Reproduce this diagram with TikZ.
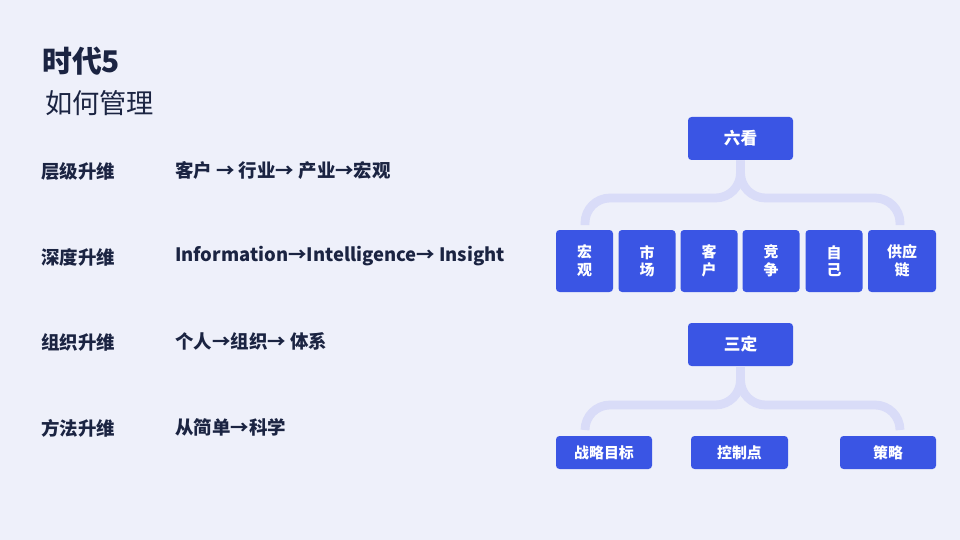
\documentclass[tikz,border=0pt]{standalone}
\usepackage{fontspec}
\setmainfont{Noto Sans CJK SC}
\definecolor{bgcol}{HTML}{EEF0FA}
\definecolor{ink}{HTML}{1B2442}
\definecolor{boxblue}{HTML}{3A55E4}
\definecolor{lilac}{HTML}{D9DCF8}
\tikzset{
  box/.style={fill=boxblue, rounded corners=2pt, text=white, font=\fontsize{8.5}{10}\selectfont\bfseries, align=center, inner sep=0pt},
  row/.style={anchor=west, text=ink, font=\fontsize{10.5}{12}\selectfont\bfseries},
  bracket/.style={draw=lilac, line width=5pt, rounded corners=0.5cm}
}
\begin{document}
\begin{tikzpicture}
  \fill[bgcol] (0,0) rectangle (19.2,-10.8);
  \useasboundingbox (0,0) rectangle (19.2,-10.8);

  \node [anchor=west, text=ink, font=\fontsize{17}{20}\selectfont\bfseries] (title) at (0.72,-1.22) {时代5};
  \node [anchor=west, text=ink, font=\fontsize{15.5}{18}\selectfont] (sub) at (0.78,-2.06) {如何管理};

  \node [row] (r1) at (0.7,-3.44) {层级升维};
  \node [row] (v1) at (3.38,-3.40) {客户 → 行业→ 产业→宏观};
  \node [row] (r2) at (0.7,-5.14) {深度升维};
  \node [row] (v2) at (3.38,-5.12) {Information→Intelligence→ Insight};
  \node [row] (r3) at (0.7,-6.84) {组织升维};
  \node [row] (v3) at (3.38,-6.82) {个人→组织→ 体系};
  \node [row] (r4) at (0.7,-8.56) {方法升维};
  \node [row] (v4) at (3.38,-8.54) {从简单→科学};

  % six boxes
  \node [box, minimum width=2.1cm, minimum height=0.86cm, font=\fontsize{9.5}{11}\selectfont\bfseries] (lk) at (14.81,-2.77) {六看};
  \node [box, minimum width=1.14cm, minimum height=1.24cm] (a1) at (11.69,-5.22) {宏\\观};
  \node [box, minimum width=1.14cm, minimum height=1.24cm] (a2) at (12.94,-5.22) {市\\场};
  \node [box, minimum width=1.14cm, minimum height=1.24cm] (a3) at (14.18,-5.22) {客\\户};
  \node [box, minimum width=1.14cm, minimum height=1.24cm] (a4) at (15.42,-5.22) {竞\\争};
  \node [box, minimum width=1.14cm, minimum height=1.24cm] (a5) at (16.68,-5.22) {自\\己};
  \node [box, minimum width=1.36cm, minimum height=1.24cm] (a6) at (18.04,-5.22) {供应\\链};

  % three boxes
  \node [box, minimum width=2.1cm, minimum height=0.86cm, font=\fontsize{9.5}{11}\selectfont\bfseries] (sd) at (14.81,-6.89) {三定};
  \node [box, minimum width=1.92cm, minimum height=0.66cm] (b1) at (12.08,-9.05) {战略目标};
  \node [box, minimum width=1.94cm, minimum height=0.66cm] (b2) at (14.79,-9.05) {控制点};
  \node [box, minimum width=1.92cm, minimum height=0.66cm] (b3) at (17.76,-9.05) {策略};

  \coordinate (lkl) at (11.7,-4.5);
  \coordinate (lkr) at (18.0,-4.5);
  \coordinate (sdl) at (11.7,-8.6);
  \coordinate (sdr) at (18.0,-8.6);
  \draw [bracket] (lk.south) |- (11.7,-3.96) -- (lkl);
  \draw [bracket] (lk.south) |- (18.0,-3.96) -- (lkr);
  \draw [bracket] (sd.south) |- (11.7,-8.1) -- (sdl);
  \draw [bracket] (sd.south) |- (18.0,-8.1) -- (sdr);
\end{tikzpicture}
\end{document}
